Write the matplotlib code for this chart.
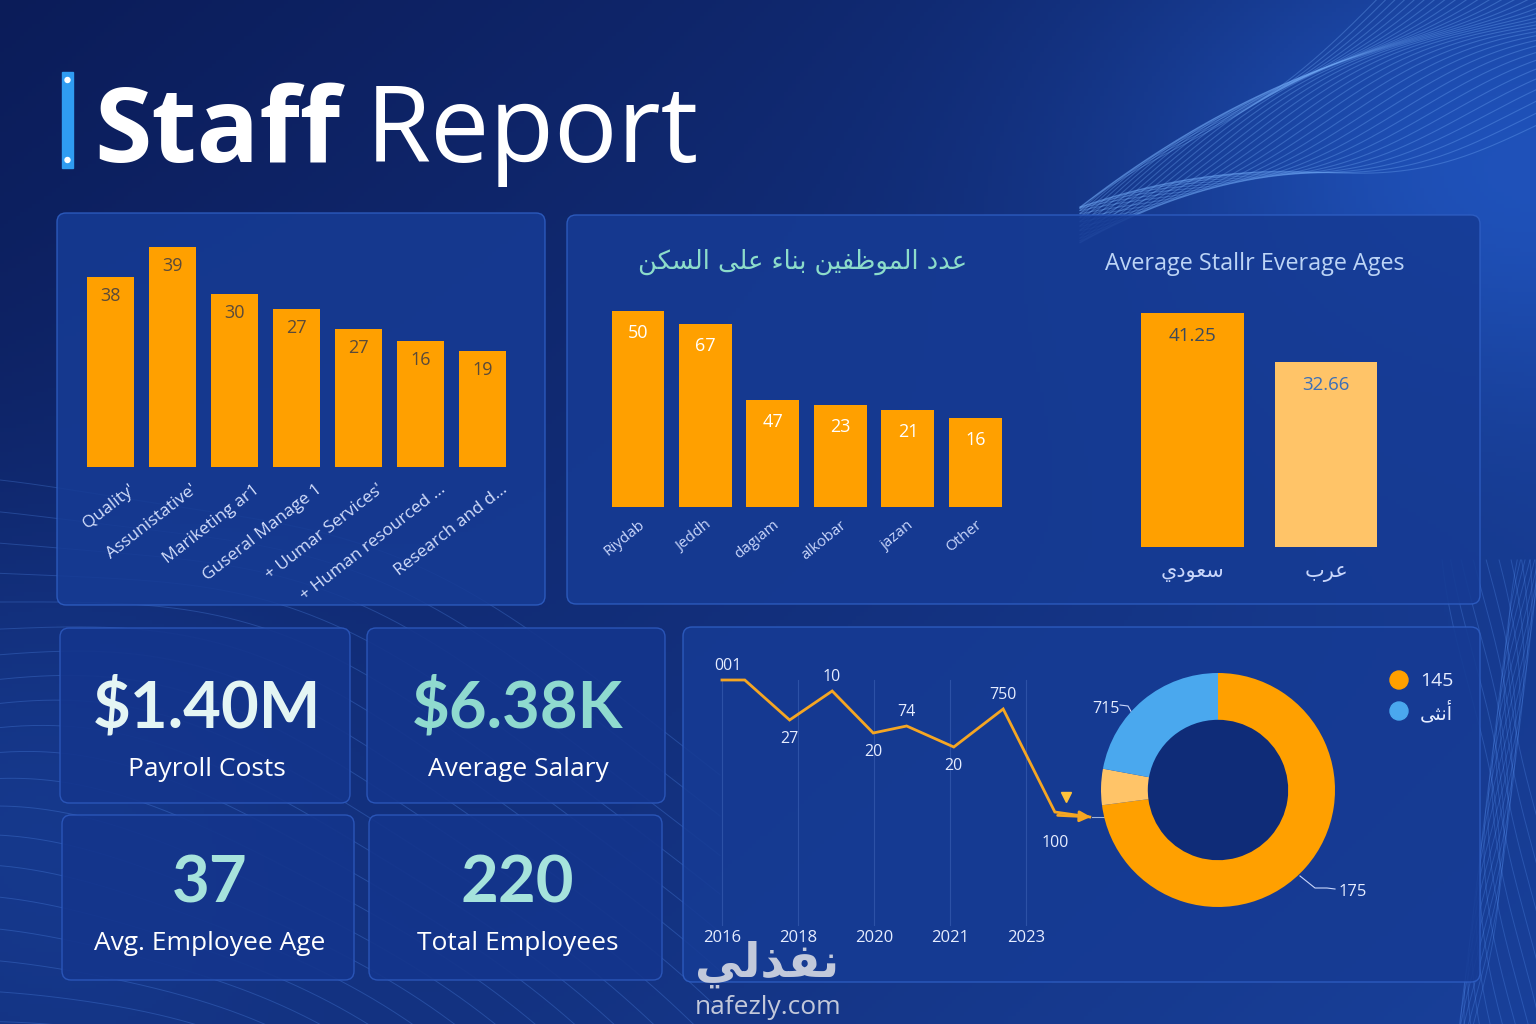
import numpy as np
import matplotlib.pyplot as plt
from matplotlib.patches import FancyBboxPatch, Rectangle, Circle

plt.rcParams['font.family'] = ['Open Sans', 'DejaVu Sans']

# ---- data ----
dept_labels = ["Quality'", "Assunistative'", "Mariketing ar1", "Guseral Manage 1",
               "+ Uumar Services'", "+ Human resourced ...", "Research and d..."]
dept_values = ["38", "39", "30", "27", "27", "16", "19"]
dept_heights = [33.7, 39, 30.7, 28.0, 24.5, 22.3, 20.6]

city_labels = ["Riydab", "Jeddh", "dagıam", "alkobar", "jazan", "Other"]
city_values = ["50", "67", "47", "23", "21", "16"]
city_heights = [49, 45.8, 26.8, 25.5, 24.2, 22.2]

age_groups = ["سعودي", "عرب"]
age_values = [41.25, 32.66]

years = ["2016", "2018", "2020", "2021", "2023"]
trend_x = [0, 0.3, 0.89, 1.45, 1.99, 2.43, 3.05, 3.7, 4.38, 4.84]
trend_y = [100, 100, 80, 94.5, 73.5, 77, 66.5, 85.5, 34, 31.5]
trend_labels = {0: ("001", 1), 2: ("27", -1), 3: ("10", 1), 4: ("20", -1),
                5: ("74", 1), 6: ("20", -1), 7: ("750", 1), 8: ("100", -1)}

donut_values = [175, 12, 53]
donut_labels = ["175", "", "715"]
legend_items = ["145", "أنثى"]

kpi_values = ["$1.40M", "$6.38K", "37", "220"]
kpi_names = ["Payroll Costs", "Average Salary", "Avg. Employee Age", "Total Employees"]

# ---- tiny arabic shaper (matplotlib has no text shaping) ----
DUAL = {'ب': 0xFE8F, 'ت': 0xFE95, 'ث': 0xFE99, 'ج': 0xFE9D, 'ح': 0xFEA1, 'خ': 0xFEA5,
        'س': 0xFEB1, 'ش': 0xFEB5, 'ص': 0xFEB9, 'ض': 0xFEBD, 'ط': 0xFEC1, 'ظ': 0xFEC5,
        'ع': 0xFEC9, 'غ': 0xFECD, 'ف': 0xFED1, 'ق': 0xFED5, 'ك': 0xFED9, 'ل': 0xFEDD,
        'م': 0xFEE1, 'ن': 0xFEE5, 'ه': 0xFEE9, 'ي': 0xFEF1}
RIGHT = {'أ': 0xFE83, 'ا': 0xFE8D, 'ة': 0xFE93, 'د': 0xFEA9, 'ذ': 0xFEAB, 'ر': 0xFEAD,
         'ز': 0xFEAF, 'و': 0xFEED, 'ى': 0xFEEF}


def ar(s):
    out = []
    for i, ch in enumerate(s):
        jp = i > 0 and s[i - 1] in DUAL
        nxt = s[i + 1] if i + 1 < len(s) else ''
        if ch in DUAL:
            jn = nxt in DUAL or nxt in RIGHT
            out.append(chr(DUAL[ch] + (3 if jp and jn else 1 if jp else 2 if jn else 0)))
        elif ch in RIGHT:
            out.append(chr(RIGHT[ch] + (1 if jp else 0)))
        elif ch == 'ء':
            out.append(chr(0xFE80))
        else:
            out.append(ch)
    return ''.join(reversed(out))


W, H = 1536, 1024
fig = plt.figure(figsize=(15.36, 10.24), dpi=100)
bg = fig.add_axes([0, 0, 1, 1])
bg.set_xlim(0, W)
bg.set_ylim(H, 0)
bg.axis('off')

# background gradient
yy, xx = np.mgrid[0:H:4, 0:W:4].astype(float)
dark = np.array([9, 22, 78]) / 255
bright = np.array([32, 84, 190]) / 255
f = 0.10 + 0.33 * (xx / W) + 0.25 * (yy / H) \
    + 0.5 * np.exp(-(((xx - 1500) / 380) ** 2 + ((yy - 150) / 260) ** 2)) \
    + 0.25 * np.exp(-(((xx - 0) / 300) ** 2 + ((yy - 800) / 300) ** 2))
f = np.clip(f, 0, 1)[..., None]
img = dark + (bright - dark) * f
bg.imshow(img, extent=(0, W, H, 0), zorder=0, aspect='auto')

# decorative wave lines
for k in range(34):
    x = np.linspace(1080, W, 200)
    y = 225 - (x - 1080) * (0.22 + 0.017 * k) + 18 * np.sin(x / 70 + k * 0.25)
    bg.plot(x, y, color='#7ab4ff', lw=0.8, alpha=0.3, zorder=1)
for k in range(22):
    x = np.linspace(0, 720, 200)
    y = 480 + 28 * k + 0.00055 * x ** 2 * (1 + 0.05 * k) + 10 * np.sin(x / 90 + k * 0.4)
    bg.plot(x, y, color='#5f9cff', lw=0.7, alpha=0.25, zorder=1)
for k in range(18):
    y = np.linspace(560, H, 200)
    x = 1470 + 4 * k + 30 * np.sin(y / 110 + k * 0.3)
    bg.plot(x, y, color='#5f9cff', lw=0.7, alpha=0.25, zorder=1)

# title
bg.add_patch(Rectangle((62, 72), 11, 96, color='#2f9cf2', zorder=3))
bg.add_patch(Circle((67.5, 80), 2.5, color='white', zorder=4))
bg.add_patch(Circle((67.5, 160), 2.5, color='white', zorder=4))
bg.text(94, 162, "Staff", fontsize=75, fontweight='bold', color='white', va='baseline', zorder=5)
bg.text(366, 162, "Report", fontsize=76, color='white', va='baseline', zorder=5)

# panels
for x0, y0, x1, y1 in [(57, 213, 545, 605), (567, 215, 1480, 604), (683, 627, 1480, 982)]:
    bg.add_patch(FancyBboxPatch((x0, y0), x1 - x0, y1 - y0, boxstyle="round,pad=0,rounding_size=9",
                                fc='#163b94', ec='#2f5fc4', lw=1, alpha=0.88, zorder=2))
cards = [(60, 628, 350, 803), (367, 628, 665, 803), (62, 815, 354, 980), (369, 815, 662, 980)]
for x0, y0, x1, y1 in cards:
    bg.add_patch(FancyBboxPatch((x0, y0), x1 - x0, y1 - y0, boxstyle="round,pad=0,rounding_size=9",
                                fc='#14358c', ec='#2c58bc', lw=1, alpha=0.92, zorder=2))

kpi_colors = ['#e4f5f4', '#8fdacf', '#a6e3dc', '#a6e3dc']
kpi_value_y = [708, 708, 884, 884]
kpi_name_y = [769, 769, 944, 944]
for (x0, y0, x1, y1), v, n, c, vy, ny in zip(cards, kpi_values, kpi_names, kpi_colors,
                                           kpi_value_y, kpi_name_y):
    cx = (x0 + x1) / 2
    bg.text(cx + 2, vy, v, fontsize=47, fontweight='bold', color=c, ha='center', va='center',
            family='Lato', zorder=5)
    bg.text(cx + 2, ny, n, fontsize=19, color='white', ha='center', va='center', zorder=5)


def px_axes(x0, y0, x1, y1):
    a = fig.add_axes([x0 / W, 1 - y1 / H, (x1 - x0) / W, (y1 - y0) / H])
    a.set_facecolor('none')
    for s in a.spines.values():
        s.set_visible(False)
    a.set_xticks([])
    a.set_yticks([])
    return a


# departments bar chart
ax1 = px_axes(70, 230, 522, 467)
ax1.bar(range(len(dept_heights)), dept_heights, width=0.76, color='#ffa000')
for i, (h, t) in enumerate(zip(dept_heights, dept_values)):
    ax1.text(i, h - 3.4, t, ha='center', va='center', fontsize=13, color='#5a4a3a')
    ax1.text(i + 0.3, -2.6, dept_labels[i], rotation=38, ha='right', va='top',
             rotation_mode='anchor', fontsize=12.5, color='#d3defc', clip_on=False)
ax1.set_xlim(-0.65, 6.64)
ax1.set_ylim(0, 42)

# cities bar chart
bg.text(803, 262, ar("عدد الموظفين بناء على السكن"), fontsize=18.5, color='#8cdcca',
        ha='center', va='center', family='DejaVu Sans', zorder=5)
ax2 = px_axes(595, 290, 1020, 507)
ax2.bar(range(len(city_heights)), city_heights, width=0.785, color='#ffa000')
for i, (h, t) in enumerate(zip(city_heights, city_values)):
    ax2.text(i, h - 5.5, t, ha='center', va='center', fontsize=13, color='white')
    ax2.text(i, -2.6, city_labels[i], rotation=39, ha='right', va='top',
             rotation_mode='anchor', fontsize=11, color='#c9d6fb', clip_on=False)
ax2.set_xlim(-0.637, 5.66)
ax2.set_ylim(0, 54.25)

# average ages
bg.text(1255, 264, "Average Stallr Everage Ages", fontsize=16.8, color='#bcd4f6',
        ha='center', va='center', zorder=5)
ax3 = px_axes(1100, 290, 1420, 547)
ax3.bar([0, 1], age_values, width=0.77, color=['#ffa000', '#ffc468'])
for i, (v, c) in enumerate(zip(age_values, ['#3c4a5c', '#3c70b8'])):
    ax3.text(i, v - 4.1, f"{v:.2f}", ha='center', va='center', fontsize=13.5, color=c)
    ax3.text(i, -4.4, ar(age_groups[i]), ha='center', va='center', fontsize=15,
             color='#c9d6fb', family='DejaVu Sans', clip_on=False)
ax3.set_xlim(-0.693, 1.704)
ax3.set_ylim(0, 45.3)

# trend line
ax4 = px_axes(700, 655, 1120, 926)
for gx in range(len(years)):
    ax4.plot([gx, gx], [100, -22.5], color='#4a6fc0', lw=0.8, alpha=0.45)
ax4.plot(trend_x, trend_y, color='#f5a623', lw=2, solid_joinstyle='miter')
ax4.annotate('', xy=(trend_x[-1] + 0.05, trend_y[-1]), xytext=(trend_x[-2], trend_y[-2] - 1.6),
             arrowprops=dict(arrowstyle='-|>', color='#f5a623', lw=2, mutation_scale=16))
for i, (t, side) in trend_labels.items():
    off = 10 if side > 0 else -14
    if i == 8:
        off = -22
    ax4.annotate(t, (trend_x[i], trend_y[i]), xytext=(4 if i == 0 else 0, off),
                 textcoords='offset points', ha='center', va='center', fontsize=11.5, color='#e6edff')
ax4.set_xticks(range(len(years)))
ax4.set_xticklabels(years, fontsize=12, color='#e6edff')
ax4.tick_params(axis='x', length=0, pad=3)
ax4.set_xlim(-0.289, 5.237)
ax4.set_ylim(-23, 112.5)
bg.plot([1092, 1106], [817, 817], color='#9fb3d8', lw=0.8, zorder=5)
bg.plot([1066], [797], marker='v', ms=7, color='#ffc23a', zorder=5)

# donut
ax5 = fig.add_axes([1101 / W, 1 - 907 / H, 234 / W, 234 / H])
ax5.pie(donut_values, colors=['#ffa000', '#ffc468', '#4aa8ee'], startangle=90, counterclock=False,
        wedgeprops=dict(width=0.4, edgecolor='none'))
ax5.add_patch(Circle((0, 0), 0.6, color='#0f2c78', zorder=0))
ax5.set_xlim(-1, 1)
ax5.set_ylim(-1, 1)
bg.text(1106, 709, donut_labels[2], fontsize=11.5, color='#e6edff', ha='center', va='center', zorder=5)
bg.plot([1120, 1128, 1133], [705, 706, 715], color='#c9d6fb', lw=0.8, zorder=5)
bg.text(1353, 892, donut_labels[0], fontsize=12, color='#e6edff', ha='center', va='center', zorder=5)
bg.plot([1300, 1315, 1327, 1335], [876, 888, 888, 889], color='#c9d6fb', lw=0.8, zorder=5)

for k, (t, c) in enumerate(zip(legend_items, ['#ffa000', '#4aa8ee'])):
    bg.add_patch(Circle((1399, 680 + 31 * k), 9, color=c, zorder=5))
    bg.text(1420, 681 + 31 * k, ar(t) if k else t, fontsize=14, color='#e6edff', va='center',
            family=['Open Sans', 'DejaVu Sans'], zorder=5)

# watermark
bg.text(767, 964, ar("نفذلي"), fontsize=34, fontweight='bold', color='#d2d6e2', alpha=0.92,
        ha='center', va='center', family='DejaVu Sans', zorder=6)
bg.text(768, 1008, "nafezly.com", fontsize=19, color='#d2d6e2', alpha=0.92,
        ha='center', va='center', zorder=6)

fig.savefig('out.png', dpi=100)
